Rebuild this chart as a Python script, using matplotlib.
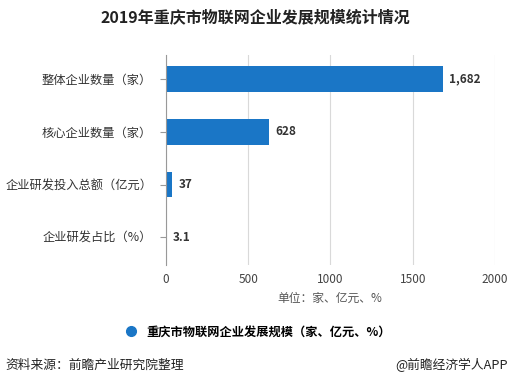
import matplotlib
matplotlib.use('Agg')
import matplotlib.pyplot as plt
from matplotlib.lines import Line2D

plt.rcParams['font.family'] = ['Noto Sans CJK SC', 'DejaVu Sans']

categories = ['整体企业数量（家）', '核心企业数量（家）', '企业研发投入总额（亿元）', '企业研发占比（%）']
values = [1682, 628, 37, 3.1]
value_labels = ['1,682', '628', '37', '3.1']
xticks = [0, 500, 1000, 1500, 2000]

color = '#1a76c6'

fig = plt.figure(figsize=(5.1, 3.87), dpi=100)
ax = fig.add_axes([0.3255, 0.315, 0.645, 0.543])

y = list(range(len(categories)))
ax.barh(y, values, height=0.49, color=color, zorder=3)
for yi, v, lab in zip(y, values, value_labels):
    ax.text(v + 40, yi, lab, va='center', ha='left', fontsize=8.5, fontweight='bold', color='#333333')

ax.set_yticks(y)
ax.set_yticklabels(categories, fontsize=8.8, color='#333333')
ax.set_ylim(3.53, -0.46)
ax.set_xlim(0, 2000)
ax.set_xticks(xticks)
ax.set_xticklabels([str(t) for t in xticks], fontsize=8.5, color='#444444')
ax.tick_params(axis='x', length=0, pad=6)
ax.tick_params(axis='y', length=4, color='#999999', pad=6)
ax.grid(axis='x', color='#d9d9d9', linewidth=0.8, zorder=0)
for s in ['top', 'right', 'bottom']:
    ax.spines[s].set_visible(False)
ax.spines['left'].set_color('#999999')
ax.spines['left'].set_zorder(4)

fig.text(0.647, 0.23, '单位：家、亿元、%', ha='center', va='center', fontsize=8.5, color='#555555')
fig.text(0.5, 0.955, '2019年重庆市物联网企业发展规模统计情况', ha='center', va='center',
         fontsize=11.5, fontweight='bold', color='#222222')

handle = Line2D([], [], marker='o', linestyle='none', markersize=7, color=color)
fig.legend([handle], ['重庆市物联网企业发展规模（家、亿元、%）'], loc='center',
           bbox_to_anchor=(0.5, 0.142), frameon=False, handletextpad=0.3,
           prop={'size': 8.8, 'weight': 'bold'})

fig.text(0.01, 0.057, '资料来源：前瞻产业研究院整理', ha='left', va='center', fontsize=9.2, color='#222222')
fig.text(0.995, 0.057, '@前瞻经济学人APP', ha='right', va='center', fontsize=9.2, color='#222222')

fig.savefig('out.png', dpi=100)
